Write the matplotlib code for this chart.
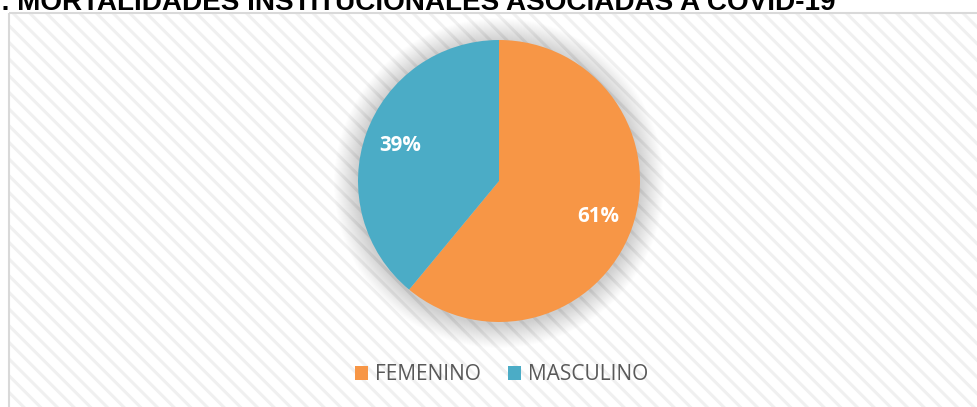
import matplotlib
matplotlib.use("Agg")
import matplotlib.pyplot as plt
from matplotlib.patches import Rectangle, Circle

labels = ["FEMENINO", "MASCULINO"]
values = [61, 39]
colors = ["#F79646", "#4BACC6"]
title = "7. MORTALIDADES INSTITUCIONALES ASOCIADAS A COVID-19"

W, H = 977, 407
plt.rcParams["hatch.color"] = "#f0f0f0"
plt.rcParams["hatch.linewidth"] = 2.2
fig = plt.figure(figsize=(W / 100, H / 100), dpi=100)
fig.patch.set_facecolor("white")

# background chart box with diagonal stripes
bg = fig.add_axes([0, 0, 1, 1])
bg.set_xlim(0, W)
bg.set_ylim(H, 0)
bg.axis("off")
bg.add_patch(Rectangle((9, 13), W, H, facecolor="white", edgecolor="#f0f0f0",
                       linewidth=0, hatch="\\\\", zorder=1))
bg.add_patch(Rectangle((9, 13), W, H, facecolor="none", edgecolor="#d9d9d9",
                       linewidth=1.5, zorder=2))

# title (cut at the top edge, as in the reference)
t = bg.text(836, 10, title, fontsize=20, fontweight="bold", color="black",
            ha="right", va="baseline", family="Liberation Sans", zorder=3)
fig.canvas.draw()
wpx = t.get_window_extent().width
t.set_fontsize(20 * 850 / wpx)

# soft shadow around the pie
cx, cy, r = 499, 181, 141
n = 24
for i in range(n):
    bg.add_patch(Circle((cx, cy + 2), r + n - i, facecolor="#000000",
                        alpha=0.006, edgecolor="none", zorder=3))

ax = fig.add_axes([(cx - r) / W, 1 - (cy + r) / H, 2 * r / W, 2 * r / H])
wedges, texts, autotexts = ax.pie(
    values, colors=colors, startangle=90, counterclock=False,
    autopct=lambda p: f"{p:.0f}%", pctdistance=0.745,
    wedgeprops=dict(linewidth=0),
    textprops=dict(color="white", fontsize=14.8, fontweight="bold", family="Open Sans"))
ax.set_aspect("equal")
ax.set_xlim(-1, 1)
ax.set_ylim(-1, 1)

leg = fig.legend(wedges, labels, loc="center", bbox_to_anchor=(502 / W, 1 - 375 / H),
                 ncol=2, frameon=False, handlelength=0.62, handleheight=0.62,
                 handletextpad=0.34, columnspacing=1.3,
                 prop=dict(family="Open Sans", size=15))
for txt in leg.get_texts():
    txt.set_color("#595959")

fig.savefig("out.png", dpi=100)
